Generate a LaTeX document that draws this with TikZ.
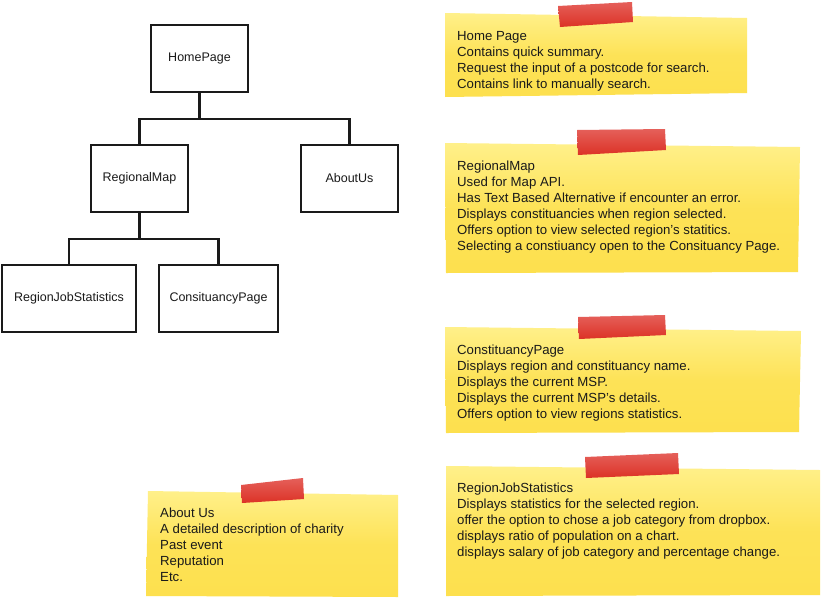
\documentclass[tikz,border=0pt]{standalone}
\usepackage{fontspec}
\setmainfont{Liberation Sans}
\definecolor{noteY}{HTML}{FDE04E}
\definecolor{noteYl}{HTML}{FFF08A}
\definecolor{tapeR}{HTML}{DC3226}
\definecolor{tapeRl}{HTML}{E5605A}
\definecolor{ink}{HTML}{1A1A1A}
\begin{document}
\begin{tikzpicture}[x=1pt,y=-1pt,
  pagebox/.style={draw=ink, line width=2.2pt, minimum width=97pt, minimum height=67pt,
    font=\fontsize{12.5}{15}\selectfont, inner sep=0pt, text=ink},
  link/.style={draw=ink, line width=2.2pt},
  notepaper/.style={top color=noteYl, bottom color=noteY, middle color=noteY!85!noteYl},
  tape/.style={top color=tapeRl, bottom color=tapeR},
  notetext/.style={anchor=base west, align=left, font=\fontsize{13.2}{16}\selectfont,
    inner sep=0pt, text=ink}]
\useasboundingbox[fill=white] (0,0) rectangle (822,600);

% tree
\node[pagebox] (home) at (199.5,58.5) {HomePage};
\node[pagebox] (rmap) at (139.5,178.5) {RegionalMap};
\node[pagebox] (about) at (349.5,178.5) {AboutUs};
\node[pagebox, minimum width=134pt] (rjs) at (69,298.5) {RegionJobStatistics};
\node[pagebox, minimum width=119pt] (cons) at (218.5,298.5) {ConsituancyPage};

\coordinate (hj) at ([yshift=-26pt]home.south);
\coordinate (rj) at ([yshift=-26pt]rmap.south);
\draw[link] (home.south) -- (hj) -| (rmap.north);
\draw[link] (hj) -| (about.north);
\draw[link] (rmap.south) -- (rj) -| (rjs.north);
\draw[link] (rj) -| (cons.north);

% note 1
\shade[notepaper] (445,13) -- (747,18) -- (747,93) -- (445,97) -- cycle;
\shade[tape] (558,6) -- (632,2) -- (633,22) -- (560,27) -- cycle;
\node[notetext] (t1) at (457,88.5) {Home Page\\Contains quick summary.\\Request the input of a postcode for search.\\Contains link to manually search.};

% note 2
\shade[notepaper] (445,143) -- (800,147) -- (798,272) -- (446,273) -- cycle;
\shade[tape] (577,130) -- (665,129) -- (666,150) -- (578,155) -- cycle;
\node[notetext] (t2) at (457,250) {RegionalMap\\Used for Map API.\\Has Text Based Alternative if encounter an error.\\Displays constituancies when region selected.\\Offers option to view selected region's statitics.\\Selecting a constiuancy open to the Consituancy Page.};

% note 3
\shade[notepaper] (445,327) -- (801,331) -- (799,432) -- (446,433) -- cycle;
\shade[tape] (578,317) -- (665,315) -- (666,335) -- (579,339) -- cycle;
\node[notetext] (t3) at (457,418.3) {ConstituancyPage\\Displays region and constituancy name.\\Displays the current MSP.\\Displays the current MSP's details.\\Offers option to view regions statistics.};

% note 4
\shade[notepaper] (446,466) -- (820,470) -- (820,595) -- (446,596) -- cycle;
\shade[tape] (585,457) -- (678,453) -- (679,474) -- (586,478) -- cycle;
\node[notetext] (t4) at (457,556.7) {RegionJobStatistics\\Displays statistics for the selected region.\\offer the option to chose a job category from dropbox.\\displays ratio of population on a chart.\\displays salary of job category and percentage change.};

% note 5
\shade[notepaper] (148,491) -- (398,495) -- (398,597) -- (146,596) -- cycle;
\shade[tape] (241,485) -- (303,478) -- (304,499) -- (242,503) -- cycle;
\node[notetext] (t5) at (160,581.7) {About Us\\A detailed description of charity\\Past event\\Reputation\\Etc.};
\end{tikzpicture}
\end{document}
